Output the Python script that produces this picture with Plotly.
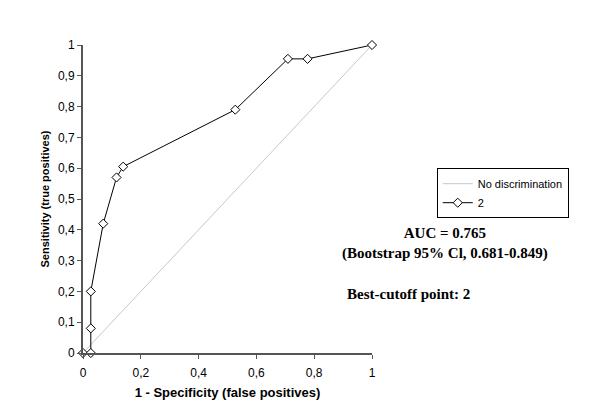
import plotly.graph_objects as go

# ROC curve points
fpr = [0, 0.027, 0.027, 0.027, 0.07, 0.116, 0.139, 0.527, 0.709, 0.777, 1]
tpr = [0, 0.0, 0.08, 0.2, 0.42, 0.57, 0.605, 0.79, 0.955, 0.955, 1]

# reference line
diag_x = [0, 1]
diag_y = [0, 1]

x_ticks = [0, 0.2, 0.4, 0.6, 0.8, 1]
x_labels = ['0', '0,2', '0,4', '0,6', '0,8', '1']
y_ticks = [0, 0.1, 0.2, 0.3, 0.4, 0.5, 0.6, 0.7, 0.8, 0.9, 1]
y_labels = ['0', '0,1', '0,2', '0,3', '0,4', '0,5', '0,6', '0,7', '0,8', '0,9', '1']

fig = go.Figure()

fig.add_trace(go.Scatter(
    x=diag_x, y=diag_y, mode='lines', name='No discrimination',
    line=dict(color='#c8c8c8', width=1), cliponaxis=False
))

fig.add_trace(go.Scatter(
    x=fpr, y=tpr, mode='lines+markers', name='2',
    line=dict(color='black', width=1),
    marker=dict(symbol='diamond', size=7, color='white',
                line=dict(color='black', width=1)),
    cliponaxis=False
))

tick_font = dict(family='Arial, Liberation Sans', size=12, color='black')

# page body has an 8px margin, so the figure is a little smaller than the window
fig.update_layout(
    width=592, height=410,
    margin=dict(l=75, r=228, t=37, b=65),
    plot_bgcolor='white', paper_bgcolor='white',
    showlegend=True,
    legend=dict(x=1.224, y=0.6, xanchor='left', yanchor='top',
                bordercolor='black', borderwidth=1, bgcolor='white',
                font=dict(family='Arial, Liberation Sans', size=11, color='black'),
                tracegroupgap=0, itemwidth=30),
    xaxis=dict(range=[0, 1], tickvals=x_ticks, ticktext=x_labels,
               showgrid=False, zeroline=False, showline=True,
               linecolor='#555555', linewidth=2, ticks='outside',
               ticklen=4, tickcolor='#555555', tickfont=tick_font,
               ticklabelstandoff=4,
               title=dict(text='<b>1 - Specificity (false positives)</b>',
                          font=dict(family='Arial, Liberation Sans', size=13, color='black'),
                          standoff=8)),
    yaxis=dict(range=[0, 1], tickvals=y_ticks, ticktext=y_labels,
               showgrid=False, zeroline=False, showline=True,
               linecolor='#555555', linewidth=2, ticks='outside',
               ticklen=4, tickcolor='#555555', tickfont=tick_font,
               title=dict(text='<b>Sensitivity (true positives)</b>',
                          font=dict(family='Arial, Liberation Sans', size=11, color='black'),
                          standoff=6)),
)

note_font = dict(family='Liberation Serif, Times New Roman', size=15, color='black')
fig.add_annotation(text='<b>AUC = 0.765<br>(Bootstrap 95% Cl, 0.681-0.849)</b>',
                   xref='paper', yref='paper', align='center',
                   x=1.253, y=0.355, showarrow=False, font=note_font,
                   xanchor='center', yanchor='middle')
fig.add_annotation(text='<b>Best-cutoff point: 2</b>', xref='paper', yref='paper',
                   x=0.906, y=0.192, showarrow=False, font=note_font,
                   xanchor='left', yanchor='middle')

fig.write_html("out.html")
